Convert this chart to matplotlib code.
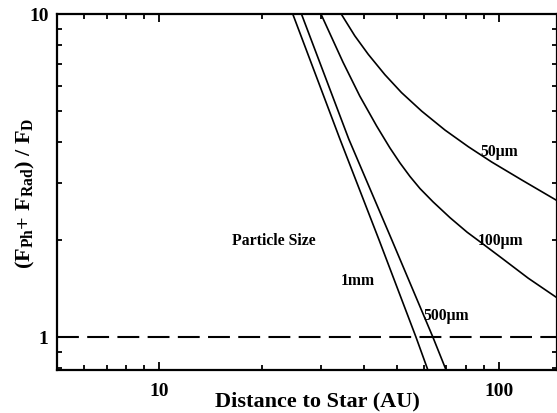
import matplotlib
matplotlib.use('Agg')
from matplotlib import pyplot as plt
from matplotlib.ticker import FixedLocator, LogLocator, NullFormatter

# curves (distance in AU, force ratio)
dist_50um = [34.3, 37.6, 41.2, 46.1, 51.6, 59.2, 69.3, 81.2, 95.1, 116.7, 148.3]
ratio_50um = [10, 8.56, 7.50, 6.49, 5.71, 5.00, 4.37, 3.88, 3.48, 3.06, 2.64]

dist_100um = [29.9, 34.7, 38.9, 43.6, 47.7, 51.05, 54.65, 58.5, 63.9, 71.7,
              80.5, 87.9, 102.1, 121.8, 148.3]
ratio_100um = [10, 7.10, 5.57, 4.50, 3.85, 3.46, 3.14, 2.88, 2.62, 2.34,
               2.11, 1.97, 1.75, 1.52, 1.32]

dist_500um = [26.2, 36.1, 48.3, 63.8, 69.8]
ratio_500um = [10, 4.10, 2.0, 1.0, 0.79]

dist_1mm = [24.7, 34.0, 44.3, 56.9, 61.7]
ratio_1mm = [10, 4.10, 2.0, 1.0, 0.79]

# label text and where it sits (data coords)
labels = ['50\u03bcm', '100\u03bcm', '500\u03bcm', '1mm', 'Particle Size']
label_x = [100, 101, 69.8, 38.4, 21.7]
label_y = [3.77, 2.0, 1.17, 1.50, 2.0]


def main():
    plt.rcParams['font.family'] = ['Liberation Serif', 'DejaVu Serif']
    plt.rcParams['font.weight'] = 'bold'
    plt.rcParams['mathtext.fontset'] = 'custom'
    plt.rcParams['mathtext.rm'] = 'Liberation Serif:bold'

    fig = plt.figure(figsize=(5.57, 4.14), dpi=100)
    ax = fig.add_axes([0.1023, 0.1039, 0.8977, 0.8599])

    for xs, ys in [(dist_50um, ratio_50um), (dist_100um, ratio_100um),
                   (dist_500um, ratio_500um), (dist_1mm, ratio_1mm)]:
        ax.plot(xs, ys, color='black', linewidth=1.2)

    ax.axhline(1.0, color='black', linewidth=1.5, linestyle=(0, (10.5, 4)))

    for name, lx, ly in zip(labels, label_x, label_y):
        ax.text(lx, ly, name, fontsize=11.3, fontweight='bold',
                ha='center', va='center')

    ax.set_xscale('log')
    ax.set_yscale('log')
    ax.set_xlim(5, 148)
    ax.set_ylim(0.79, 10)

    ax.xaxis.set_major_locator(FixedLocator([10, 100]))
    ax.set_xticklabels(['10', '100'])
    ax.xaxis.set_minor_locator(LogLocator(base=10, subs=range(2, 10)))
    ax.xaxis.set_minor_formatter(NullFormatter())
    ax.yaxis.set_major_locator(FixedLocator([1, 10]))
    ax.set_yticklabels(['1', '10'])
    ax.yaxis.set_minor_locator(LogLocator(base=10, subs=range(2, 10)))
    ax.yaxis.set_minor_formatter(NullFormatter())

    ax.tick_params(which='both', direction='in', top=True, right=True,
                   width=1.3, labelsize=14)
    ax.tick_params(which='major', length=6)
    ax.tick_params(axis='x', which='major', pad=9)
    ax.tick_params(axis='y', which='major', pad=6)
    ax.tick_params(which='minor', length=3.5)
    for s in ax.spines.values():
        s.set_linewidth(1.6)

    ax.set_xlabel('Distance to Star (AU)', fontsize=16, fontweight='bold')
    ax.xaxis.set_label_coords(0.52, -0.058)
    ax.set_ylabel(r'(F$_{\mathrm{Ph}}$+ F$_{\mathrm{Rad}}$) / F$_{\mathrm{D}}$',
                  fontsize=16, fontweight='bold')
    ax.yaxis.set_label_coords(-0.04, 0.5)

    fig.savefig('out.png', dpi=100)


if __name__ == '__main__':
    main()
